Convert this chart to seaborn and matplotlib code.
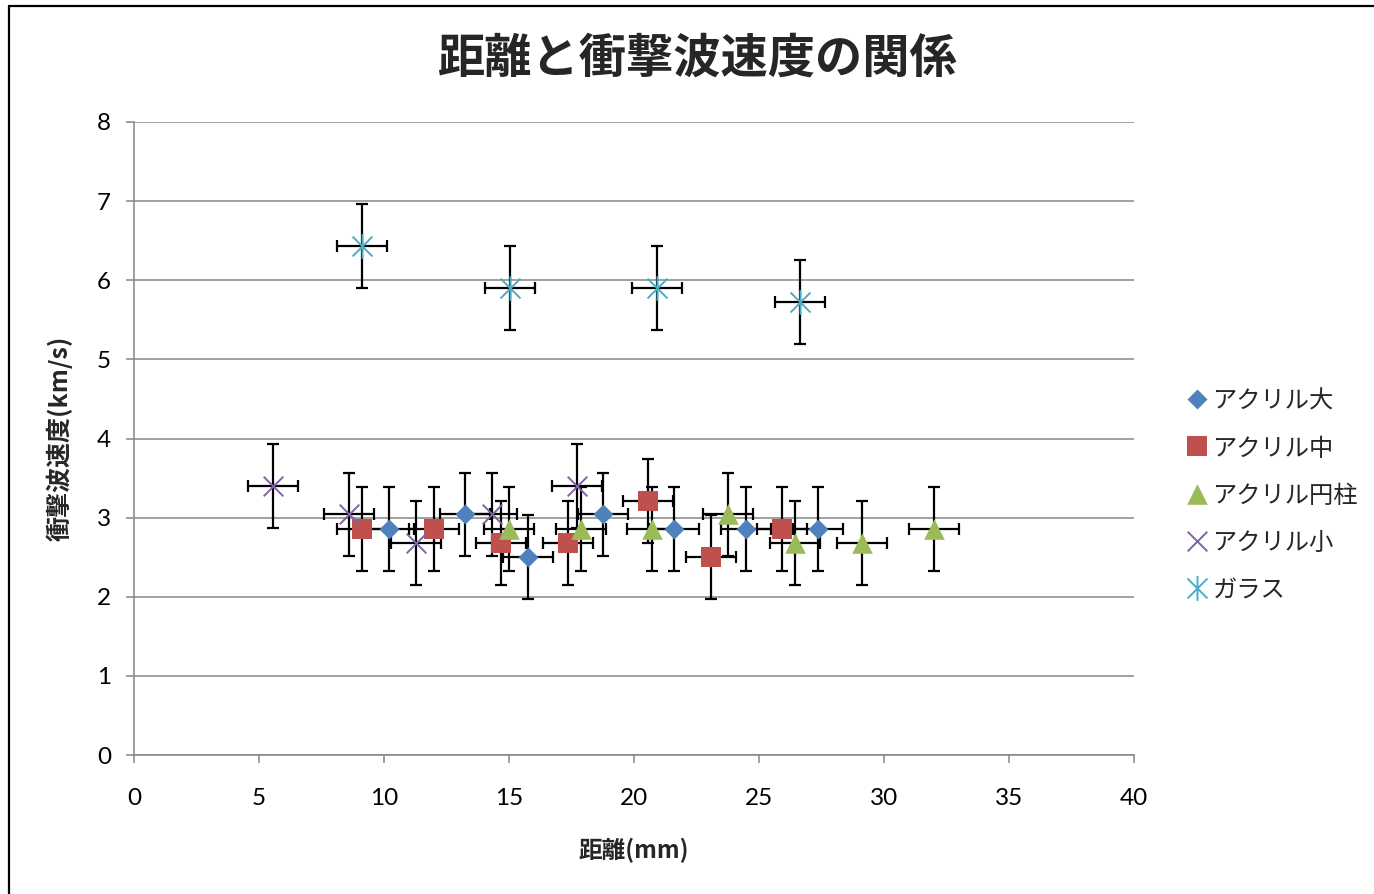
import numpy as np
import pandas as pd
import matplotlib
matplotlib.use("Agg")
import matplotlib.pyplot as plt
from matplotlib.path import Path
from matplotlib.lines import Line2D
import seaborn as sns

# ---- measured data: distance (mm) vs. shock-wave velocity (km/s) ----
series_names = ["アクリル大", "アクリル中", "アクリル円柱", "アクリル小", "ガラス"]

acr_large_x = [10.20, 13.24, 15.75, 18.77, 21.61, 24.48, 27.35]
acr_large_y = [2.86, 3.04, 2.50, 3.04, 2.86, 2.86, 2.86]

acr_mid_x = [9.13, 11.99, 14.67, 17.37, 20.57, 23.07, 25.92]
acr_mid_y = [2.86, 2.86, 2.68, 2.68, 3.21, 2.50, 2.86]

acr_cyl_x = [15.01, 17.88, 20.72, 23.77, 26.45, 29.13, 31.99]
acr_cyl_y = [2.86, 2.86, 2.86, 3.04, 2.68, 2.68, 2.86]

acr_small_x = [5.55, 8.59, 11.27, 14.31, 17.71]
acr_small_y = [3.40, 3.04, 2.68, 3.04, 3.40]

glass_x = [9.13, 15.04, 20.92, 26.64]
glass_y = [6.43, 5.90, 5.90, 5.72]

# measurement uncertainty
x_error = 1.0   # mm
y_error = 0.53  # km/s

x_ticks = [0, 5, 10, 15, 20, 25, 30, 35, 40]
y_ticks = [0, 1, 2, 3, 4, 5, 6, 7, 8]

title_text = "距離と衝撃波速度の関係"
x_label = "距離(mm)"
y_label = "衝撃波速度(km/s)"

frames = []
for name, xs, ys in zip(series_names,
                        [acr_large_x, acr_mid_x, acr_cyl_x, acr_small_x, glass_x],
                        [acr_large_y, acr_mid_y, acr_cyl_y, acr_small_y, glass_y]):
    frames.append(pd.DataFrame({"series": name, "distance": xs, "velocity": ys}))
df = pd.concat(frames, ignore_index=True)

# ---- styling ----
sns.set_style("white")
plt.rcParams["font.family"] = ["Lato", "Noto Sans CJK JP", "DejaVu Sans"]
cjk = ["Noto Sans CJK JP", "DejaVu Sans"]

colors = {
    "アクリル大": "#4F81BD",
    "アクリル中": "#C0504D",
    "アクリル円柱": "#9BBB59",
    "アクリル小": "#8064A2",
    "ガラス": "#4BACC6",
}

# six-armed star: vertical stroke plus a diagonal cross
star_path = Path(
    [(0, -1), (0, 1), (-0.8, -0.8), (0.8, 0.8), (-0.8, 0.8), (0.8, -0.8)],
    [Path.MOVETO, Path.LINETO, Path.MOVETO, Path.LINETO, Path.MOVETO, Path.LINETO],
)

marker_spec = {
    "アクリル大": dict(marker="D", s=104, linewidth=0),
    "アクリル中": dict(marker="s", s=200, linewidth=0),
    "アクリル円柱": dict(marker="^", s=220, linewidth=0),
    "アクリル小": dict(marker="x", s=200, linewidth=1.4),
    "ガラス": dict(marker=star_path, s=320, linewidth=1.4),
}

fig = plt.figure(figsize=(13.74, 8.94), dpi=100)
W, H = 1374, 894
ax = fig.add_axes([134 / W, 1 - 755 / H, 1000 / W, 633 / H])

grid_gray = "#868686"

# error bars first so markers sit on top
for name in series_names:
    sub = df[df["series"] == name]
    ax.errorbar(sub["distance"], sub["velocity"], xerr=x_error, yerr=y_error,
                fmt="none", ecolor="black", elinewidth=1.6, capsize=4.3,
                capthick=1.6, zorder=2)

for name in series_names:
    sub = df[df["series"] == name]
    spec = marker_spec[name]
    c = colors[name]
    sns.scatterplot(data=sub, x="distance", y="velocity", ax=ax,
                    marker=spec["marker"], s=spec["s"], color=c,
                    edgecolor=c, linewidth=spec["linewidth"],
                    label=name, zorder=3, legend=False)

ax.set_xlim(0, 40)
ax.set_ylim(0, 8)
ax.set_xticks(x_ticks)
ax.set_yticks(y_ticks)
ax.set_xticklabels([str(t) for t in x_ticks])
ax.set_yticklabels([str(t) for t in y_ticks])

ax.yaxis.grid(True, color=grid_gray, linewidth=1.1)
ax.xaxis.grid(False)
ax.set_axisbelow(True)
for side in ["top", "right"]:
    ax.spines[side].set_visible(False)
for side in ["left", "bottom"]:
    ax.spines[side].set_color(grid_gray)
    ax.spines[side].set_linewidth(1.1)

ax.tick_params(axis="both", which="major", direction="out", length=5.5,
               width=1.1, color=grid_gray, labelsize=17.5, labelcolor="black")
ax.tick_params(axis="y", pad=11)
ax.tick_params(axis="x", pad=18)
ax.tick_params(left=True, bottom=True)

ax.set_xlabel(x_label, fontsize=17, fontweight="bold", family=cjk, va="center")
ax.xaxis.set_label_coords(0.5, (755 - 850) / 633)
ax.set_ylabel(y_label, fontsize=18, fontweight="bold", family=cjk, va="center")
ax.yaxis.set_label_coords((60 - 134) / 1000, 0.5)

fig.text(696.5 / W, 1 - 58.5 / H, title_text, ha="center", va="center",
         fontsize=34, fontweight="bold", family=cjk)

handles, labels = ax.get_legend_handles_labels()
leg = ax.legend(handles, labels, loc="center left",
                bbox_to_anchor=(1187 / W, 1 - 496 / H),
                bbox_transform=fig.transFigure, frameon=False,
                prop={"family": cjk, "size": 17.5},
                handlelength=0.8, handletextpad=0.25, labelspacing=0.88,
                borderpad=0, borderaxespad=0, markerscale=1.0,
                scatterpoints=1, scatteryoffsets=[0.55])

# outer chart-area border (left and top edges)
fig.add_artist(Line2D([8.5 / W, 8.5 / W], [0, 1 - 5.5 / H], color="black",
                      linewidth=1.6, transform=fig.transFigure))
fig.add_artist(Line2D([8.5 / W, 1], [1 - 5.5 / H, 1 - 5.5 / H], color="black",
                      linewidth=1.6, transform=fig.transFigure))

fig.savefig("out.png", dpi=100)
